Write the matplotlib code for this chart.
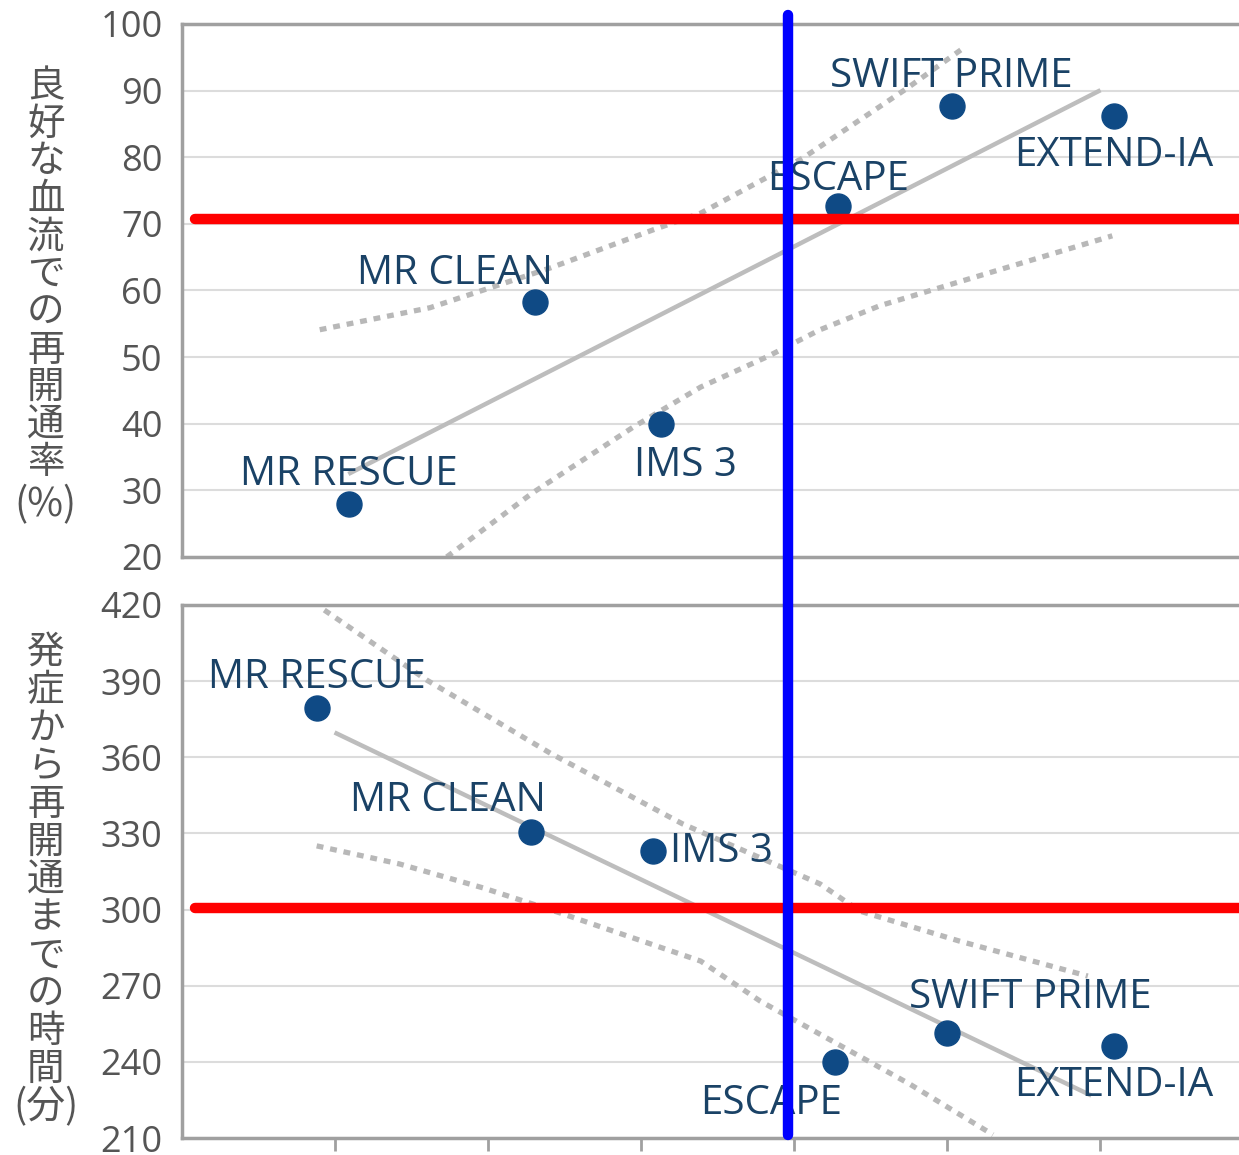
import matplotlib
matplotlib.use('Agg')
import matplotlib.pyplot as plt
import matplotlib.transforms as mtransforms

plt.rcParams['font.family'] = ['Open Sans', 'Noto Sans CJK JP', 'DejaVu Sans']

## trials shown in both panels
trials = ['MR RESCUE', 'MR CLEAN', 'IMS 3', 'ESCAPE', 'SWIFT PRIME', 'EXTEND-IA']

## top panel: rate of good reperfusion (%)
top_x = [1.09, 2.31, 3.13, 4.29, 5.03, 6.09]
top_y = [28, 58.3, 40, 72.7, 87.7, 86.2]
top_fit_x = [1.10, 5.99]
top_fit_y = [32.6, 89.9]
top_upper_x = [0.90, 1.62, 2.41, 3.08, 3.39, 4.06, 4.73, 5.09]
top_upper_y = [54.1, 57.4, 63.4, 69.1, 71.6, 79.9, 90.2, 96.1]
top_lower_x = [1.73, 2.29, 2.95, 3.39, 3.82, 4.17, 4.56, 6.08]
top_lower_y = [20, 29.6, 39.5, 45.5, 50.0, 54.1, 57.7, 68.2]

## bottom panel: time from onset to reperfusion (min)
bot_x = [0.88, 2.28, 3.08, 4.27, 5.00, 6.09]
bot_y = [379.3, 330.7, 323.2, 239.8, 251.2, 246.1]
bot_fit_x = [1.01, 5.93]
bot_fit_y = [369.4, 227.1]
bot_upper_x = [0.93, 1.60, 2.41, 3.27, 4.17, 4.43, 5.08, 5.92]
bot_upper_y = [418.0, 390.4, 361.5, 333.8, 310.1, 299.4, 287.6, 273.8]
bot_lower_x = [0.88, 1.42, 1.97, 2.47, 3.39, 3.78, 4.22, 4.76, 5.30]
bot_lower_y = [325.1, 318.0, 308.5, 298.7, 279.7, 263.9, 249.2, 231.1, 211.3]

top_ticks = [20, 30, 40, 50, 60, 70, 80, 90, 100]
bot_ticks = [210, 240, 270, 300, 330, 360, 390, 420]
x_ticks = [1, 2, 3, 4, 5, 6]

top_ylabel = '良好な血流での再開通率'
top_unit = '(%)'
bot_ylabel = '発症から再開通までの時間'
bot_unit = '(分)'

## reference marks drawn over the chart
top_red = 70.7
bot_red = 300.6
blue_x = 3.96

## label offsets in points (dx, dy, ha)
top_offsets = [(0, 21, 'center'), (-58, 20, 'center'), (18, -30, 'center'),
               (0, 19, 'center'), (0, 21, 'center'), (0, -29, 'center')]
bot_offsets = [(0, 22, 'center'), (-60, 22, 'center'), (12, -1, 'left'),
               (-46, -30, 'center'), (60, 26, 'center'), (0, -28, 'center')]

navy = '#0f4a85'
text_navy = '#1a4266'
grey = '#b8b8b8'
spine_grey = '#a0a0a0'
label_grey = '#555555'
cjk = ['Noto Sans CJK JP', 'DejaVu Sans']

fig = plt.figure(figsize=(12.39, 11.55), dpi=100)
ax1 = fig.add_axes([0.1469, 0.5178, 0.8531, 0.4615])
ax2 = fig.add_axes([0.1469, 0.0147, 0.8531, 0.4615])


def style_axis(ax, ticks, show_xticks):
	ax.set_xlim(0, 6.908)
	ax.set_ylim(ticks[0], ticks[-1])
	ax.set_yticks(ticks)
	ax.set_yticklabels([str(t) for t in ticks], fontsize=26, color=label_grey)
	ax.tick_params(axis='y', length=0, pad=14)
	if show_xticks:
		ax.set_xticks(x_ticks)
		ax.set_xticklabels([])
		ax.tick_params(axis='x', direction='out', length=9, width=2, color=spine_grey)
	else:
		ax.set_xticks([])
	ax.grid(axis='y', color='#dcdcdc', linewidth=1.5)
	ax.set_axisbelow(True)
	ax.spines['right'].set_visible(False)
	for s in ['left', 'top', 'bottom']:
		ax.spines[s].set_color(spine_grey)
		ax.spines[s].set_linewidth(2.5)


def draw_panel(ax, xs, ys, fx, fy, ux, uy, lx, ly, offsets):
	ax.plot(ux, uy, color=grey, lw=3.8, linestyle=(0, (1.3, 1.3)), zorder=2)
	ax.plot(lx, ly, color=grey, lw=3.8, linestyle=(0, (1.3, 1.3)), zorder=2)
	ax.plot(fx, fy, color='#bdbdbd', lw=3.2, zorder=2)
	ax.plot(xs, ys, 'o', color=navy, markersize=18, zorder=3)
	for name, x, y, (dx, dy, ha) in zip(trials, xs, ys, offsets):
		ax.annotate(name, (x, y), xytext=(dx, dy), textcoords='offset points',
					ha=ha, va='center', fontsize=29, color=text_navy, zorder=4)


style_axis(ax1, top_ticks, False)
style_axis(ax2, bot_ticks, True)
draw_panel(ax1, top_x, top_y, top_fit_x, top_fit_y, top_upper_x, top_upper_y,
		   top_lower_x, top_lower_y, top_offsets)
draw_panel(ax2, bot_x, bot_y, bot_fit_x, bot_fit_y, bot_upper_x, bot_upper_y,
		   bot_lower_x, bot_lower_y, bot_offsets)

## red horizontal marks
ax1.plot([0.085, 6.908], [top_red, top_red], color='#ff0000', lw=7.5,
		 solid_capstyle='round', clip_on=False, zorder=6)
ax2.plot([0.085, 6.908], [bot_red, bot_red], color='#ff0000', lw=7.5,
		 solid_capstyle='round', clip_on=False, zorder=6)

## blue vertical mark across both panels
trans = mtransforms.blended_transform_factory(ax2.transData, fig.transFigure)
ax2.plot([blue_x, blue_x], [0.0173, 0.9870], color='#0000ff', lw=7.5,
		 solid_capstyle='round', transform=trans, clip_on=False, zorder=7)

## vertical stacked y labels, unit below each
fig.text(0.037, 0.942, '\n'.join(top_ylabel), ha='center', va='top',
		 fontsize=27, color=label_grey, linespacing=0.955, family=cjk)
fig.text(0.037, 0.5628, top_unit, ha='center', va='center',
		 fontsize=28, color=label_grey, family=cjk)
fig.text(0.037, 0.452, '\n'.join(bot_ylabel), ha='center', va='top',
		 fontsize=27, color=label_grey, linespacing=0.965, family=cjk)
fig.text(0.037, 0.0416, bot_unit, ha='center', va='center',
		 fontsize=28, color=label_grey, family=cjk)

fig.savefig('out.png', dpi=100)
